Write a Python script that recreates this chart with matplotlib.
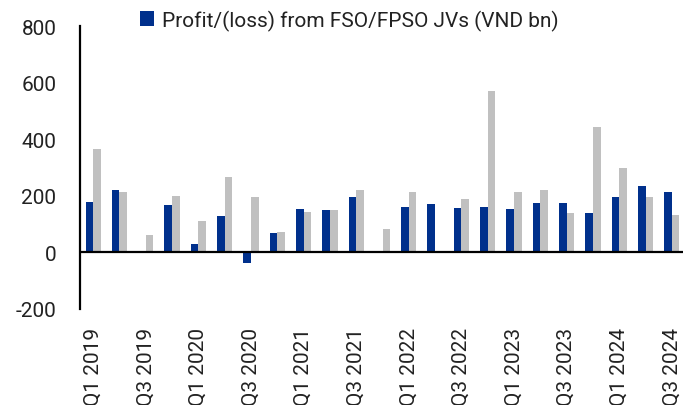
import numpy as np
import matplotlib
matplotlib.use('Agg')
import matplotlib.pyplot as plt

plt.rcParams['font.family'] = ['Roboto', 'DejaVu Sans']
plt.rcParams['axes.unicode_minus'] = False

# quarters Q1 2019 .. Q3 2024
quarters = ['Q1 2019', 'Q2 2019', 'Q3 2019', 'Q4 2019',
            'Q1 2020', 'Q2 2020', 'Q3 2020', 'Q4 2020',
            'Q1 2021', 'Q2 2021', 'Q3 2021', 'Q4 2021',
            'Q1 2022', 'Q2 2022', 'Q3 2022', 'Q4 2022',
            'Q1 2023', 'Q2 2023', 'Q3 2023', 'Q4 2023',
            'Q1 2024', 'Q2 2024', 'Q3 2024']

# blue series: profit/(loss) from FSO/FPSO JVs
profit = [177, 222, 5, 169, 30, 127, -39, 69, 155, 150, 196, 0,
          160, 172, 158, 159, 155, 175, 176, 139, 195, 236, 213]

# grey series (no legend entry)
other = [366, 215, 61, 199, 110, 265, 195, 72, 143, 150, 219, 82,
         214, 5, 190, 571, 213, 222, 139, 443, 298, 195, 132]

blue = '#00308C'
grey = '#C0C0C0'

fig = plt.figure(figsize=(6.83, 4.06), dpi=100)
ax = fig.add_axes([80 / 683, (406 - 310) / 406, 605 / 683, 283 / 406])

x = np.arange(len(quarters))
w = 0.29
ax.bar(x - w / 2, profit, width=w, color=blue,
       label='Profit/(loss) from FSO/FPSO JVs (VND bn)')
ax.bar(x + w / 2, other, width=w, color=grey)

ax.set_xlim(-0.5, len(quarters) - 0.5)
ax.set_ylim(-200, 800)
ax.set_yticks([-200, 0, 200, 400, 600, 800])
ax.set_xticks(x[::2])
ax.set_xticklabels(quarters[::2], rotation=90)

ax.axhline(0, color='black', lw=1.6)
for s in ['top', 'right', 'bottom']:
    ax.spines[s].set_visible(False)
ax.spines['left'].set_linewidth(1.6)
ax.spines['left'].set_color('black')

ax.tick_params(axis='y', length=0, pad=17, labelsize=15, colors='#222222')
ax.tick_params(axis='x', length=0, pad=13, labelsize=15, colors='#222222')

fig.legend(loc='center left', bbox_to_anchor=(121 / 683, 1 - 21 / 406),
           frameon=False, fontsize=15, handlelength=0.7, handleheight=0.7,
           handletextpad=0.35, labelcolor='#222222')

fig.savefig('out.png', dpi=100)
